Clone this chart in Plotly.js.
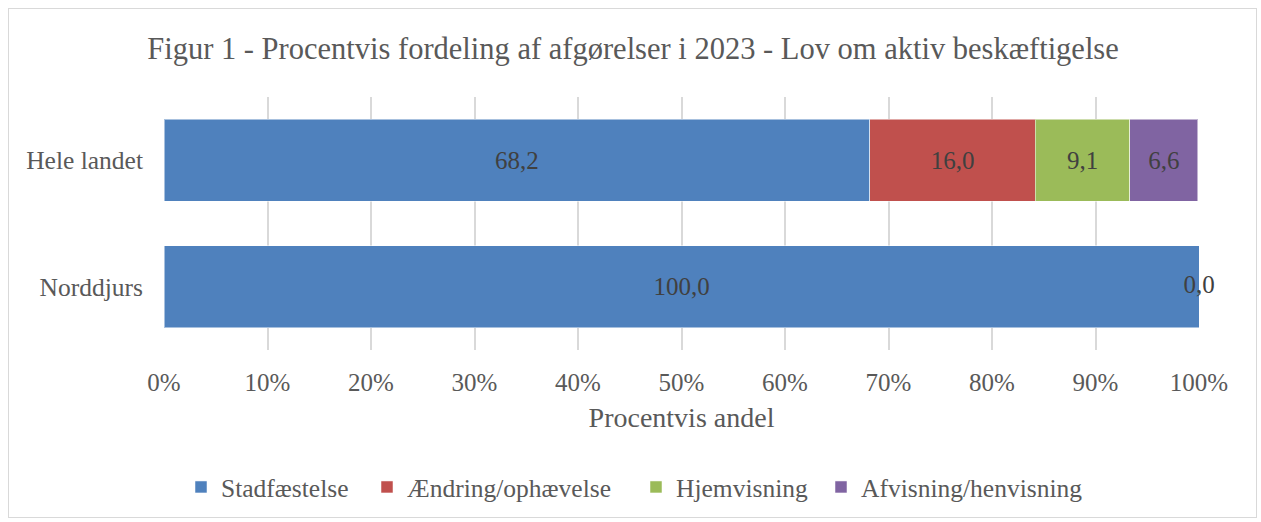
<!DOCTYPE html>
<html>
<head>
<meta charset="utf-8">
<script src="https://cdn.plot.ly/plotly-3.0.1.min.js"></script>
<style>
  html, body { margin: 0; padding: 0; background: #fff; }
  #wrap { position: relative; width: 1261px; height: 522px; }
  #chart { position: absolute; left: 0; top: 0; width: 1261px; height: 522px; }
  #frame { position: absolute; left: 8px; top: 8px; width: 1247px; height: 508px; border: 1px solid #d9d9d9; pointer-events: none; }
</style>
</head>
<body>
<div id="wrap"><div id="chart"></div><div id="frame"></div></div>
<script>
const categories = ["Hele landet", "Norddjurs"];
const seriesNames = ["Stadfæstelse", "Ændring/ophævelse", "Hjemvisning", "Afvisning/henvisning"];
const stadfaestelse = [68.2, 100.0];
const aendring = [16.0, 0.0];
const hjemvisning = [9.1, 0.0];
const afvisning = [6.6, 0.0];
const xTickVals = [0, 10, 20, 30, 40, 50, 60, 70, 80, 90, 100];
const xTickText = ["0%", "10%", "20%", "30%", "40%", "50%", "60%", "70%", "80%", "90%", "100%"];
const colors = ["#4F81BD", "#C0504D", "#9BBB59", "#8064A2"];

const FONT = "Liberation Serif, DejaVu Serif, serif";
const fmt = v => v.toFixed(1).replace(".", ",");

// legend entry positions (pixels from left of page) – layout only
const legendLeftPx = [181, 367, 636, 821];
const legendIds = ["legend", "legend2", "legend3", "legend4"];
const plotLeft = 164, plotWidth = 1035;

const seriesValues = [stadfaestelse, aendring, hjemvisning, afvisning];
const traces = seriesValues.map((vals, i) => ({
  type: "bar",
  orientation: "h",
  name: seriesNames[i],
  legend: legendIds[i],
  y: categories,
  x: vals,
  marker: { color: colors[i], line: { color: "rgba(255,255,255,0.5)", width: 1 } },
  text: vals.map(v => v > 0 ? fmt(v) : ""),
  textposition: "inside",
  insidetextanchor: "middle",
  textangle: 0,
  constraintext: "none",
  textfont: { family: FONT, size: 25, color: "#404040" },
  hoverinfo: "x+name",
  width: 0.65
}));

// Labels for zero-width segments, placed at their cumulative position (one per position)
const zx = [], zy = [], zt = [], seen = new Set();
categories.forEach((c, ci) => {
  let cum = 0;
  seriesValues.forEach(vals => {
    const v = vals[ci];
    const key = c + "|" + cum;
    if (v === 0 && !seen.has(key)) { seen.add(key); zx.push(cum); zy.push(c); zt.push(fmt(v)); }
    cum += v;
  });
});
traces.push({
  type: "scatter",
  mode: "text",
  x: zx, y: zy, text: zt,
  textposition: "middle center",
  textfont: { family: FONT, size: 25, color: "#404040" },
  showlegend: false,
  hoverinfo: "skip",
  cliponaxis: false
});

const layout = {
  width: 1261, height: 522,
  paper_bgcolor: "#ffffff", plot_bgcolor: "#ffffff",
  font: { family: FONT, color: "#595959", size: 25 },
  barmode: "stack",
  bargap: 0.35,
  margin: { l: 164, r: 62, t: 97, b: 172, autoexpand: false },
  title: {
    text: "Figur 1 - Procentvis fordeling af afgørelser i 2023 - Lov om aktiv beskæftigelse",
    font: { family: FONT, size: 30.5, color: "#595959" },
    x: 0.502, xanchor: "center",
    y: 1 - 48 / 522, yanchor: "middle", yref: "container"
  },
  xaxis: {
    range: [0, 100],
    tickvals: xTickVals, ticktext: xTickText,
    showgrid: true, gridcolor: "#d9d9d9", gridwidth: 2,
    zeroline: false, showline: false, ticks: "",
    tickfont: { family: FONT, size: 25, color: "#595959" },
    ticklabelstandoff: 15,
    title: { text: "Procentvis andel", font: { family: FONT, size: 28, color: "#595959" }, standoff: 12 },
    automargin: false,
    fixedrange: true
  },
  yaxis: {
    type: "category",
    autorange: "reversed",
    showgrid: false, zeroline: false, showline: false, ticks: "",
    tickfont: { family: FONT, size: 25.5, color: "#595959" },
    ticklabelstandoff: 20,
    automargin: false,
    fixedrange: true
  },
  showlegend: true
};

legendIds.forEach((id, i) => {
  layout[id] = {
    orientation: "h",
    x: (legendLeftPx[i] - plotLeft) / plotWidth, xanchor: "left",
    y: -0.543, yanchor: "middle",
    font: { family: FONT, size: 25.5, color: "#595959" },
    itemwidth: 30,
    bgcolor: "rgba(0,0,0,0)",
    borderwidth: 0
  };
});

Plotly.newPlot("chart", traces, layout, { displayModeBar: false, staticPlot: true });
</script>
</body>
</html>
